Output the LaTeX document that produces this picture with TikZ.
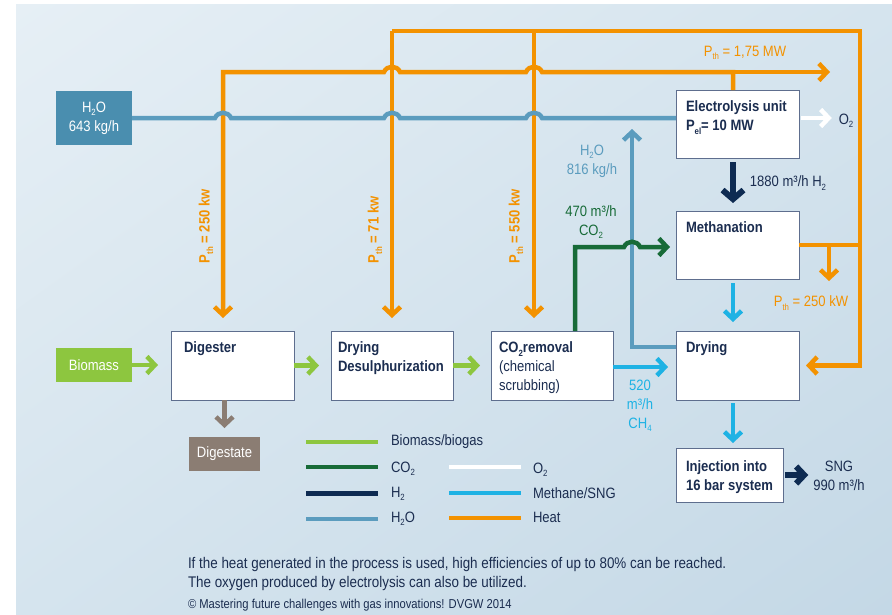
\documentclass[tikz,border=0pt]{standalone}
\usepackage{fontspec}
\setmainfont{Liberation Sans}[FakeStretch=0.87]
\usetikzlibrary{arrows.meta,shadings}
\definecolor{heat}{HTML}{F39200}
\definecolor{water}{HTML}{5B9CBE}
\definecolor{waterbox}{HTML}{4A8EAF}
\definecolor{methane}{HTML}{1EB2E4}
\definecolor{hyd}{HTML}{0E2B52}
\definecolor{cogreen}{HTML}{176B38}
\definecolor{bio}{HTML}{8DC63F}
\definecolor{digest}{HTML}{8B7D73}
\definecolor{txt}{HTML}{1B2D50}
\definecolor{bgA}{HTML}{E6EFF5}
\definecolor{bgM}{HTML}{D5E4EE}
\definecolor{bgB}{HTML}{C4D8E6}
\definecolor{boxline}{HTML}{5E6E8E}
\newcommand\sbs[1]{\raisebox{-3.5pt}{\fontsize{9}{9}\selectfont #1}}
\tikzset{
  every node/.style={font=\fontsize{15}{19}\selectfont, inner sep=0pt, outer sep=0pt, text=txt},
  procbox/.style={draw=boxline, line width=1pt, fill=white, anchor=north west},
  fillbox/.style={anchor=north west, text=white},
  btxt/.style={font=\bfseries\fontsize{15}{19}\selectfont, anchor=north west, align=left},
  vlbl/.style={text=heat, rotate=90, anchor=west, font=\bfseries\fontsize{15}{19}\selectfont},
  chev/.style={-{Straight Barb[length=8pt,width=17pt]}},
  bigchev/.style={-{Straight Barb[length=9pt,width=21pt]}},
  hf/.style={draw=heat, line width=4.5pt},
  wat/.style={draw=water, line width=4.5pt},
  cy/.style={draw=methane, line width=4.5pt},
  gr/.style={draw=bio, line width=4.5pt},
  cog/.style={draw=cogreen, line width=4.5pt},
  nv/.style={draw=hyd, line width=6pt},
  dg/.style={draw=digest, line width=4.5pt},
  wh/.style={draw=white, line width=4.5pt},
}
\begin{document}
\begin{tikzpicture}[x=1pt,y=-1pt]
\useasboundingbox (0,0) rectangle (892,614);
\fill[white] (0,0) rectangle (892,614);
\shade[upper left=bgA, upper right=bgM, lower left=bgM, lower right=bgB] (16,4) rectangle (892,614);

% ---------- boxes ----------
\node[procbox, minimum width=123pt, minimum height=68pt] (elec) at (676,90) {};
\node[procbox, minimum width=123pt, minimum height=68pt] (meth) at (676,211) {};
\node[procbox, minimum width=123pt, minimum height=69pt] (dryR) at (676,331) {};
\node[procbox, minimum width=107pt, minimum height=54pt] (inj) at (676,448) {};
\node[procbox, minimum width=122pt, minimum height=69pt] (co2) at (491,331) {};
\node[procbox, minimum width=122pt, minimum height=69pt] (dd) at (331,331) {};
\node[procbox, minimum width=123pt, minimum height=69pt] (dig) at (171,331) {};
\node[fillbox, fill=waterbox, minimum width=76pt, minimum height=54pt] (h2o) at (56,91) {};
\node[fillbox, fill=bio, minimum width=76pt, minimum height=34pt] (bio) at (56,348) {};
\node[fillbox, fill=digest, minimum width=71pt, minimum height=34pt] (dgst) at (189,437) {};

% box texts
\node[btxt] (elecT) at (686,101) {Electrolysis unit\\P\sbs{el}= 10 MW};
\node[btxt] (methT) at (686,222) {Methanation};
\node[btxt] (dryRT) at (686,342) {Drying};
\node[btxt] (injT) at (686,461) {Injection into\\16 bar system};
\node[btxt] (co2T) at (499,342) {CO\sbs{2}removal\\\mdseries(chemical\\\mdseries scrubbing)};
\node[btxt] (ddT) at (338,342) {Drying\\Desulphurization};
\node[btxt] (digT) at (184,342) {Digester};
\node[text=white, align=center] (h2oT) at (h2o.center) {H\sbs{2}O\\643 kg/h};
\node[text=white] (bioT) at (bio.center) {Biomass};
\node[text=white] (dgstT) at (dgst.center) {Digestate};

% helper coordinates
\coordinate (cx) at (733,0);
\coordinate (c223) at (223,0);
\coordinate (c392) at (392,0);
\coordinate (c534) at (534,0);
\coordinate (c575) at (575,0);

% ---------- heat network ----------
\draw[hf] (meth.east) -- (860,245);
\draw[hf] (860,245) -- (860,31) -- (392,31);
\draw[hf,chev,shorten >=13pt] (392,31) -- (dd.north -| c392);
\draw[hf,chev,shorten >=13pt] (534,31) -- (co2.north -| c534);
\draw[hf,chev,shorten >=7pt] (860,245) -- (860,365.5) -- (dryR.east);
\draw[hf,chev] (829,245) -- (829,281);
\draw[hf,chev,shorten >=13pt] (elec.north -| cx) -- (733,72) -- (542,72)
   .. controls (539,65) and (529,65) .. (526,72) -- (400,72)
   .. controls (397,65) and (387,65) .. (384,72) -- (223,72) -- (dig.north -| c223);
\draw[hf,chev] (733,72) -- (830,72);

% ---------- water ----------
\draw[wat] (h2o.east) -- (215,118) .. controls (218,111) and (228,111) .. (231,118)
   -- (384,118) .. controls (387,111) and (397,111) .. (400,118)
   -- (526,118) .. controls (529,111) and (539,111) .. (542,118)
   -- (h2o.east -| elec.west);
\draw[wat,chev] (dryR.west |- 0,347) -- (632,347) -- (632,129);

% ---------- CO2 ----------
\draw[cog,chev,shorten >=6pt] (co2.north -| c575) -- (575,247) -- (624,247)
   .. controls (627,240) and (637,240) .. (640,247) -- (meth.west |- 0,247);

% ---------- biomass / biogas ----------
\draw[gr,chev,shorten >=13pt] (bio.east) -- (dig.west |- bio.east);
\draw[gr,chev,shorten >=12pt] (dig.east) -- (dd.west);
\draw[gr,chev,shorten >=11pt] (dd.east) -- (co2.west);
\draw[dg,chev,shorten >=9pt] (dig.south -| dgst.north) -- (dgst.north);

% ---------- methane ----------
\draw[cy,chev,shorten >=8pt] (co2.east |- 0,367) -- (dryR.west |- 0,367);
\draw[cy,chev,shorten <=4pt,shorten >=9pt] (meth.south -| cx) -- (dryR.north -| cx);
\draw[cy,chev,shorten <=3pt,shorten >=5pt] (dryR.south -| cx) -- (inj.north -| cx);

% ---------- hydrogen / SNG ----------
\draw[nv,bigchev,shorten <=4pt,shorten >=8pt] (elec.south -| cx) -- (meth.north -| cx);
\node[align=center] (sng) at (839,476) {SNG\\990 m³/h};
\draw[nv,chev,shorten <=2pt,shorten >=5pt] (inj.east) -- (sng.west |- inj.east);

% ---------- oxygen ----------
\node (o2l) at (846,121) {O\sbs{2}};
\draw[wh,chev,shorten <=2pt,shorten >=7pt] (h2o.east -| elec.east) -- (o2l.west |- h2o.east);

% ---------- flow labels ----------
\node[text=heat] (pthA) at (745,53) {P\sbs{th} = 1,75 MW};
\node (h2l) at (788,183) {1880 m³/h H\sbs{2}};
\node[text=water, align=center] (h2o816) at (592,161) {H\sbs{2}O\\816 kg/h};
\node[text=cogreen, align=center] (co2l) at (591,222) {470 m³/h\\CO\sbs{2}};
\node[text=methane, align=center] (ch4l) at (640,406) {520\\m³/h\\CH\sbs{4}};
\node[text=heat] (pthM) at (811,303) {P\sbs{th} = 250 kW};
\node[vlbl] (pth1) at (206,263) {P\sbs{th} = 250 kw};
\node[vlbl] (pth2) at (375,263) {P\sbs{th} = 71 kw};
\node[vlbl] (pth3) at (516,263) {P\sbs{th} = 550 kw};

% ---------- legend ----------
\draw[gr] (306,442) -- (378,442);
\draw[cog] (306,467) -- (378,467);
\draw[nv,line width=5pt] (306,493) -- (378,493);
\draw[wat] (306,519) -- (378,519);
\draw[wh] (449,467) -- (521,467);
\draw[cy] (449,493) -- (521,493);
\draw[hf] (449,518) -- (521,518);
\node[anchor=west] (lg1) at (391,442) {Biomass/biogas};
\node[anchor=west] (lg2) at (391,469) {CO\sbs{2}};
\node[anchor=west] (lg3) at (391,494) {H\sbs{2}};
\node[anchor=west] (lg4) at (391,519) {H\sbs{2}O};
\node[anchor=west] (lg5) at (533,470) {O\sbs{2}};
\node[anchor=west] (lg6) at (533,493) {Methane/SNG};
\node[anchor=west] (lg7) at (533,517) {Heat};

% ---------- footer ----------
\node[anchor=west, font=\fontsize{15.4}{19}\selectfont] (f1) at (188,565) {If the heat generated in the process is used, high efficiencies of up to 80\% can be reached.};
\node[anchor=west, font=\fontsize{15.4}{19}\selectfont] (f2) at (188,584) {The oxygen produced by electrolysis can also be utilized.};
\node[anchor=west, font=\fontsize{12.9}{15}\selectfont] (f3) at (188,605) {© Mastering future challenges with gas innovations! DVGW 2014};
\end{tikzpicture}
\end{document}
